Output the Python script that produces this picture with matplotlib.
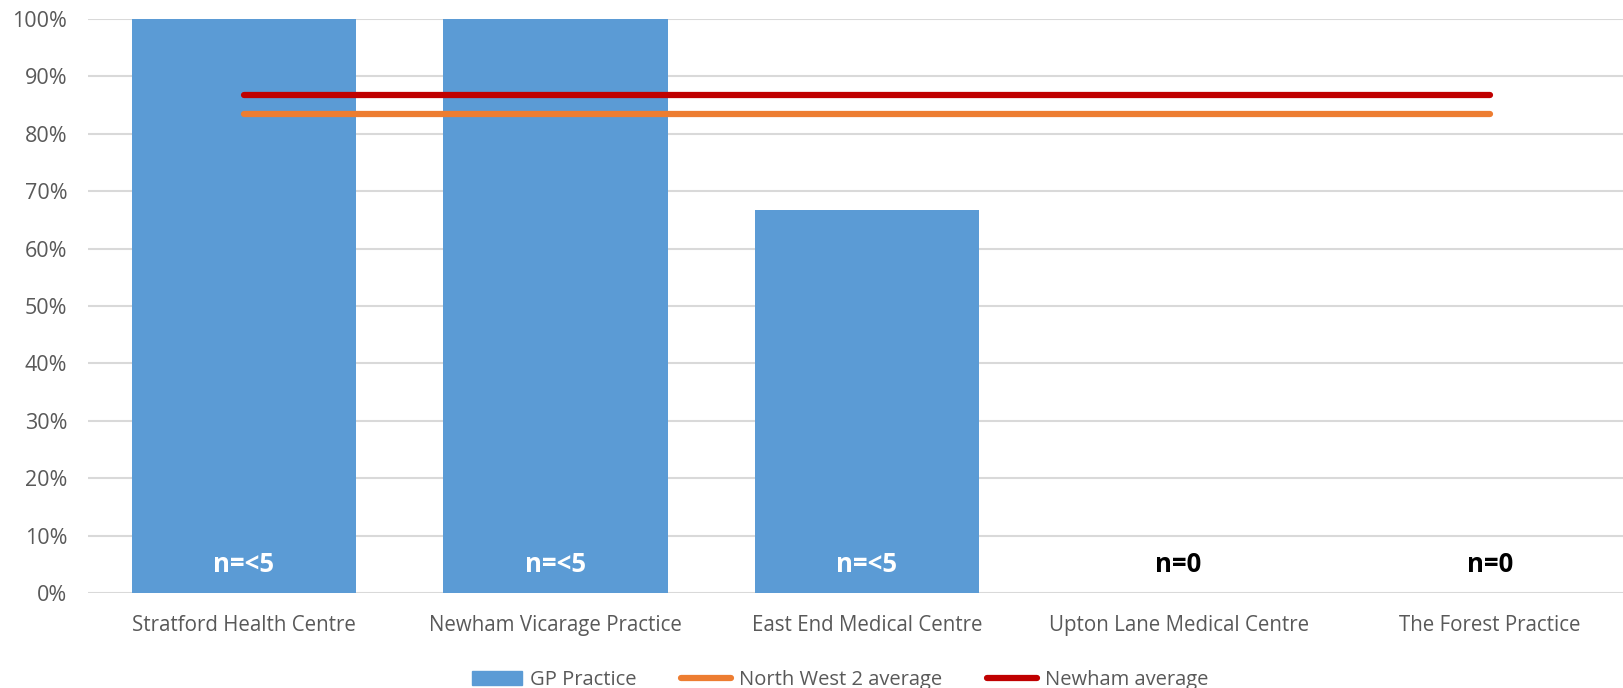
import matplotlib
matplotlib.use("Agg")
import matplotlib.pyplot as plt
from matplotlib.patches import Patch
from matplotlib.lines import Line2D

categories = ["Stratford Health Centre", "Newham Vicarage Practice", "East End Medical Centre",
              "Upton Lane Medical Centre", "The Forest Practice"]
gp_values = [100, 100, 66.7, 0, 0]
nw2_avg = [83.4] * 5
newham_avg = [86.8] * 5
n_labels = ["n=<5", "n=<5", "n=<5", "n=0", "n=0"]
yticks = [0, 10, 20, 30, 40, 50, 60, 70, 80, 90, 100]

plt.rcParams['font.family'] = ['Open Sans', 'DejaVu Sans']

fig = plt.figure(figsize=(16.24, 6.88), dpi=100)
ax = fig.add_axes([88/1624, (688-593)/688, (1646-88)/1624, (593-19)/688])

x = list(range(len(categories)))
ax.bar(x, gp_values, width=0.72, color="#5b9bd5", zorder=2)
ax.plot(x, nw2_avg, color="#ed7d31", lw=4.5, solid_capstyle="round", zorder=3)
ax.plot(x, newham_avg, color="#c00000", lw=4.5, solid_capstyle="round", zorder=3)

for i, lab in enumerate(n_labels):
    col = "white" if gp_values[i] > 0 else "black"
    ax.text(i, 5, lab, ha="center", va="center", color=col, fontsize=18.5, fontweight="bold", zorder=4)

ax.set_xlim(-0.5, 4.5)
ax.set_ylim(0, 100)
ax.set_yticks(yticks)
ax.set_yticklabels([f"{v}%" for v in yticks], color="#595959", fontsize=15.5)
ax.set_xticks(x)
ax.set_xticklabels(categories, color="#595959", fontsize=14.8)
ax.tick_params(axis="both", length=0)
ax.tick_params(axis="y", pad=15)
ax.tick_params(axis="x", pad=16)
ax.yaxis.grid(True, color="#d9d9d9", lw=1.5, zorder=0)
ax.set_axisbelow(True)
for s in ax.spines.values():
    s.set_visible(False)

handles = [Patch(color="#5b9bd5", label="GP Practice"),
           Line2D([0], [0], color="#ed7d31", lw=4.5, solid_capstyle="round", label="North West 2 average"),
           Line2D([0], [0], color="#c00000", lw=4.5, solid_capstyle="round", label="Newham average")]
fig.legend(handles=handles, loc="center", bbox_to_anchor=(840/1624, 1 - 680/688), ncol=3, frameon=False,
           fontsize=14.5, handlelength=2.5, handletextpad=0.4, columnspacing=2.2,
           labelcolor="#595959")

fig.savefig("out.png", dpi=100)
